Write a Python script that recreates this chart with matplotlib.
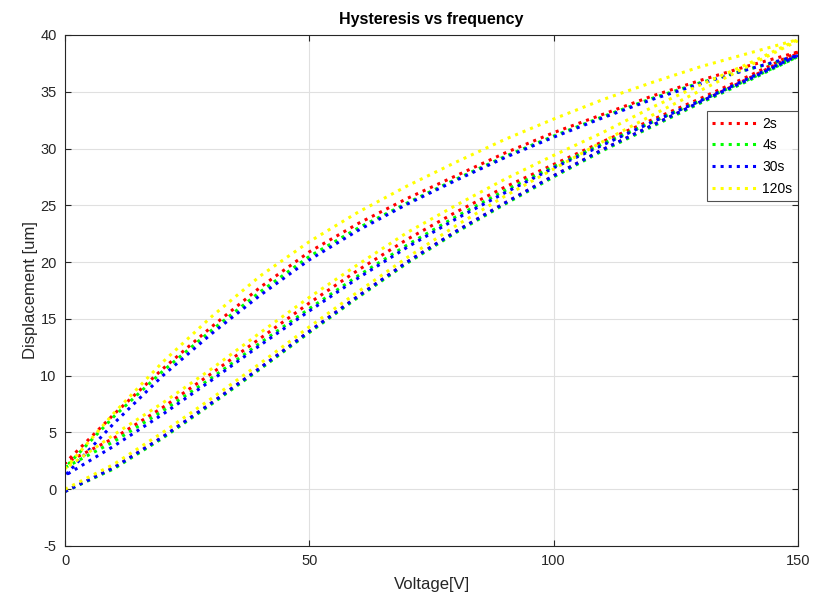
import matplotlib
matplotlib.use("Agg")
import matplotlib.pyplot as plt

# ---------------------------------------------------------------------------
# data (voltage steps of 10 V)
# ---------------------------------------------------------------------------
voltage = [0, 10, 20, 30, 40, 50, 60, 70, 80, 90, 100, 110, 120, 130, 140, 150]

labels = ["2s", "4s", "30s", "120s"]
colors = ["#ff0000", "#00ff00", "#0000ff", "#ffff00"]

# first rise from 0 V (virgin curve)
rise1_2s   = [-0.2, 1.9, 4.6, 7.6, 10.7, 13.9, 17.0, 20.0, 22.7, 25.2, 27.6, 29.9, 32.0, 34.1, 36.2, 38.4]
rise1_4s   = [-0.2, 1.8, 4.5, 7.5, 10.6, 13.8, 16.9, 19.9, 22.6, 25.1, 27.5, 29.8, 31.9, 34.0, 36.0, 38.1]
rise1_30s  = [-0.2, 1.9, 4.6, 7.6, 10.7, 13.9, 17.0, 20.0, 22.7, 25.2, 27.6, 29.9, 32.0, 34.1, 36.1, 38.2]
rise1_120s = [0.0, 2.2, 5.0, 8.0, 11.1, 14.3, 17.4, 20.4, 23.2, 25.8, 28.2, 30.6, 32.9, 35.1, 37.3, 39.5]

# fall from 150 V back to 0 V (upper branch), listed by rising voltage
fall_2s   = [2.3, 6.6, 10.6, 14.3, 17.8, 20.9, 23.4, 25.6, 27.6, 29.6, 31.4, 33.0, 34.6, 36.0, 37.3, 38.5]
fall_4s   = [1.9, 6.4, 10.4, 14.0, 17.4, 20.5, 23.0, 25.2, 27.3, 29.3, 31.1, 32.8, 34.4, 35.8, 37.0, 38.1]
fall_30s  = [1.2, 5.8, 10.0, 13.7, 17.1, 20.2, 22.8, 25.1, 27.2, 29.2, 31.0, 32.7, 34.3, 35.7, 37.0, 38.2]
fall_120s = [1.8, 6.7, 11.2, 15.2, 18.8, 21.8, 24.4, 26.7, 28.8, 30.8, 32.6, 34.3, 35.8, 37.2, 38.4, 39.6]

# second rise, starting where the fall ended
rise2_2s   = [2.3, 4.5, 7.2, 10.2, 13.3, 16.4, 19.3, 22.0, 24.4, 26.6, 28.6, 30.6, 32.5, 34.4, 36.4, 38.5]
rise2_4s   = [1.9, 4.2, 6.9, 9.8, 12.9, 15.9, 18.8, 21.5, 24.0, 26.3, 28.4, 30.4, 32.3, 34.2, 36.1, 38.1]
rise2_30s  = [1.2, 3.8, 6.6, 9.6, 12.7, 15.7, 18.6, 21.3, 23.8, 26.1, 28.3, 30.3, 32.3, 34.2, 36.2, 38.2]
rise2_120s = [1.8, 4.8, 7.6, 10.6, 13.8, 16.9, 19.8, 22.6, 25.0, 27.3, 29.4, 31.4, 33.6, 35.6, 37.5, 39.6]

rise1 = [rise1_2s, rise1_4s, rise1_30s, rise1_120s]
fall = [fall_2s, fall_4s, fall_30s, fall_120s]
rise2 = [rise2_2s, rise2_4s, rise2_30s, rise2_120s]

# ---------------------------------------------------------------------------
# plot
# ---------------------------------------------------------------------------
plt.rcParams["font.family"] = ["Liberation Sans", "DejaVu Sans"]
plt.rcParams["axes.unicode_minus"] = False

fig = plt.figure(figsize=(8.14, 5.99), dpi=100)
ax = fig.add_axes([0.0799, 0.0885, 0.9004, 0.8531])

for k in range(len(labels)):
    # one continuous trace: up, down, up again
    x = voltage + voltage[::-1] + voltage
    y = rise1[k] + fall[k][::-1] + rise2[k]
    ax.plot(x, y, linestyle=":", color=colors[k], lw=2.2, label=labels[k])

ax.set_xlim(0, 150)
ax.set_ylim(-5, 40)
ax.set_xticks([0, 50, 100, 150])
ax.set_yticks(range(-5, 41, 5))
ax.grid(True, color="#e0e0e0", lw=0.8)
ax.set_axisbelow(True)
ax.tick_params(direction="in", top=True, right=True, length=4,
               labelsize=10.5, colors="#262626", pad=6)
for s in ax.spines.values():
    s.set_color("#262626")
    s.set_linewidth(0.8)

ax.set_title("Hysteresis vs frequency", fontsize=11.5, fontweight="bold", pad=8)
ax.set_xlabel("Voltage[V]", fontsize=12, color="#262626", labelpad=6)
ax.set_ylabel("Displacement [um]", fontsize=12, color="#262626", labelpad=2)

leg = ax.legend(loc="upper right", bbox_to_anchor=(1.0, 0.851), borderaxespad=0,
                fontsize=10, fancybox=False, edgecolor="#262626",
                handlelength=3.2, handletextpad=0.4, labelspacing=0.55)
leg.get_frame().set_linewidth(0.8)

fig.savefig("out.png", dpi=100)
